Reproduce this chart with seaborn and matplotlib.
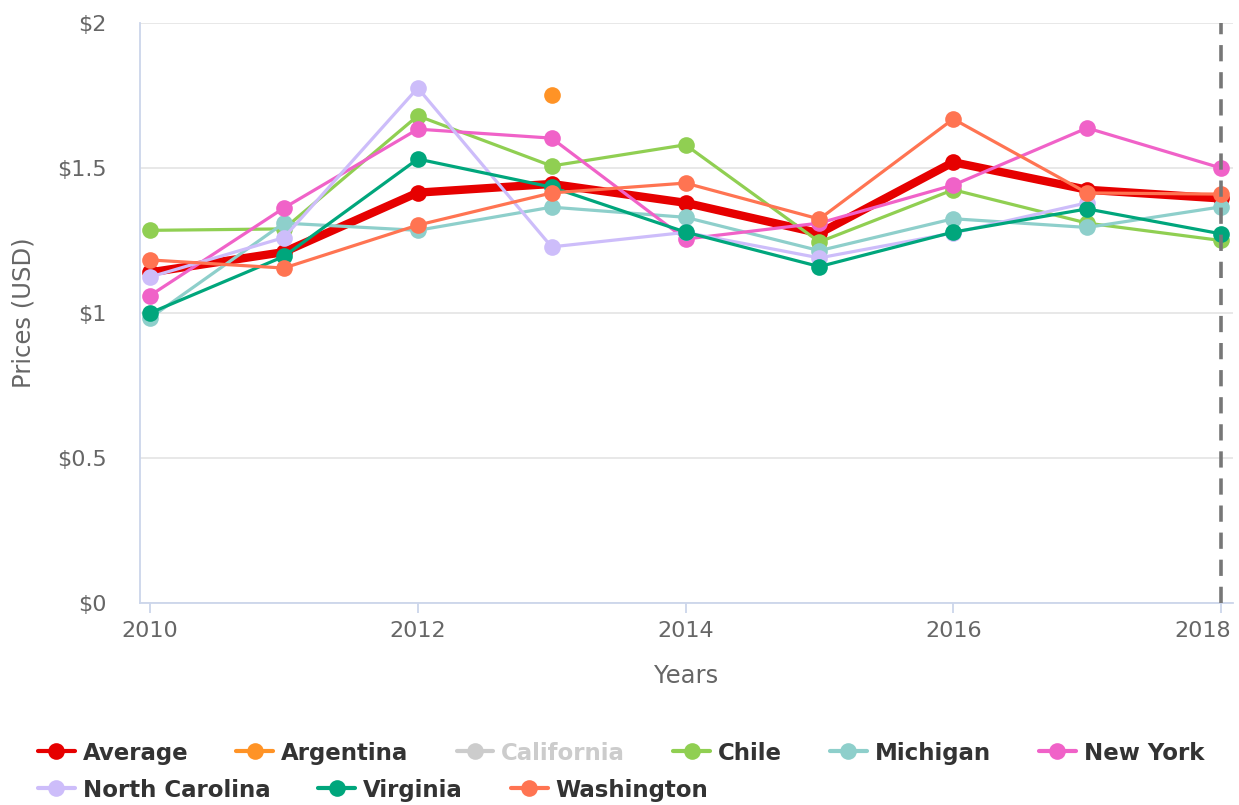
import numpy as np
import pandas as pd
import seaborn as sns
import matplotlib.pyplot as plt
from matplotlib.lines import Line2D
from matplotlib.ticker import FuncFormatter
from matplotlib.transforms import ScaledTranslation

# Data (prices in USD, NaN = no value)
years = [2010, 2011, 2012, 2013, 2014, 2015, 2016, 2017, 2018]
average = [1.14, 1.21, 1.415, 1.445, 1.38, 1.275, 1.52, 1.425, 1.395]
argentina = [np.nan, np.nan, np.nan, 1.75, np.nan, np.nan, np.nan, np.nan, np.nan]
california = [np.nan] * 9  # hidden series in the reference
chile = [1.285, 1.29, 1.68, 1.507, 1.58, 1.245, 1.425, 1.31, 1.25]
michigan = [0.983, 1.31, 1.285, 1.365, 1.33, 1.215, 1.325, 1.295, 1.366]
new_york = [1.06, 1.362, 1.634, 1.603, 1.255, 1.31, 1.441, 1.638, 1.5]
north_carolina = [1.124, 1.26, 1.776, 1.228, 1.278, 1.19, 1.276, 1.38, np.nan]
virginia = [1.0, 1.195, 1.531, 1.434, 1.279, 1.16, 1.279, 1.359, 1.273]
washington = [1.183, 1.155, 1.303, 1.414, 1.448, 1.324, 1.669, 1.414, 1.41]

series_names = ['Average', 'Argentina', 'California', 'Chile', 'Michigan',
                'New York', 'North Carolina', 'Virginia', 'Washington']
series_values = [average, argentina, california, chile, michigan,
                 new_york, north_carolina, virginia, washington]
colors = ['#E60000', '#FF9326', '#CCCCCC', '#90CF52', '#8ECFCB',
          '#F062C8', '#CDBDFA', '#00A67C', '#FF7452']
hidden = ['California']

y_ticks = [0, 0.5, 1, 1.5, 2]
x_ticks = [2010, 2012, 2014, 2016, 2018]

df = pd.DataFrame({'Year': years})
for name, vals in zip(series_names, series_values):
    df[name] = vals

sns.set_style('white')
plt.rcParams['font.family'] = ['DejaVu Sans']

fig = plt.figure(figsize=(12.39, 8.05), dpi=100)
ax = fig.add_axes([140 / 1239, 1 - 603 / 805, 1093 / 1239, 580 / 805])

for name, color in zip(series_names, colors):
    if name in hidden:
        continue
    d = df[['Year', name]].dropna()
    lw = 6.0 if name == 'Average' else 2.3
    sns.lineplot(x='Year', y=name, data=d, ax=ax, color=color, lw=lw,
                 marker='o', markersize=12, markeredgewidth=0,
                 legend=False, solid_capstyle='round')

# dashed marker line at 2018
ax.axvline(2018, color='#777777', lw=2.6, ls=(0, (4.5, 3)), zorder=10)

ax.set_xlim(2010 - 10 / 133.9, 2018 + 12 / 133.9)
ax.set_ylim(0, 2)
ax.set_yticks(y_ticks)
ax.set_xticks(x_ticks)
ax.yaxis.set_major_formatter(FuncFormatter(lambda v, p: f'${v:g}'))
ax.grid(axis='y', color='#E6E6E6', lw=1.3)
ax.grid(axis='x', visible=False)

for s in ['top', 'right']:
    ax.spines[s].set_visible(False)
for s in ['left', 'bottom']:
    ax.spines[s].set_color('#CCD6EB')
    ax.spines[s].set_linewidth(1.3)

ax.tick_params(axis='y', length=0, pad=24, labelsize=16, labelcolor='#666666')
ax.tick_params(axis='x', length=7, width=1.3, color='#CCD6EB', pad=6,
               labelsize=16, labelcolor='#666666', bottom=True)

# keep the last year label inside the figure, as the reference does
last = ax.get_xticklabels()[-1]
last.set_transform(last.get_transform() + ScaledTranslation(-0.18, 0, fig.dpi_scale_trans))

ax.set_xlabel('Years', fontsize=17.5, color='#666666')
ax.set_ylabel('Prices (USD)', fontsize=17.5, color='#666666')
ax.xaxis.set_label_coords(0.5, -0.106)
ax.yaxis.set_label_coords(-0.096, 0.5)

# legend in two rows, like the reference
handles = [Line2D([0], [0], color=c, lw=3, marker='o', markersize=12,
                  markeredgewidth=0) for c in colors]
rows = [(0, 6, 1 - 753 / 805), (6, 9, 1 - 790 / 805)]
for start, stop, ypos in rows:
    leg = fig.legend(handles[start:stop], series_names[start:stop],
                     loc='center left', bbox_to_anchor=(38 / 1239, ypos),
                     ncol=stop - start, frameon=False, borderpad=0,
                     borderaxespad=0, handlelength=1.6, handletextpad=0.35,
                     columnspacing=2.1, prop={'weight': 'bold', 'size': 16.5})
    for txt in leg.get_texts():
        txt.set_color('#CCCCCC' if txt.get_text() in hidden else '#333333')

fig.savefig('out.png', dpi=100)
